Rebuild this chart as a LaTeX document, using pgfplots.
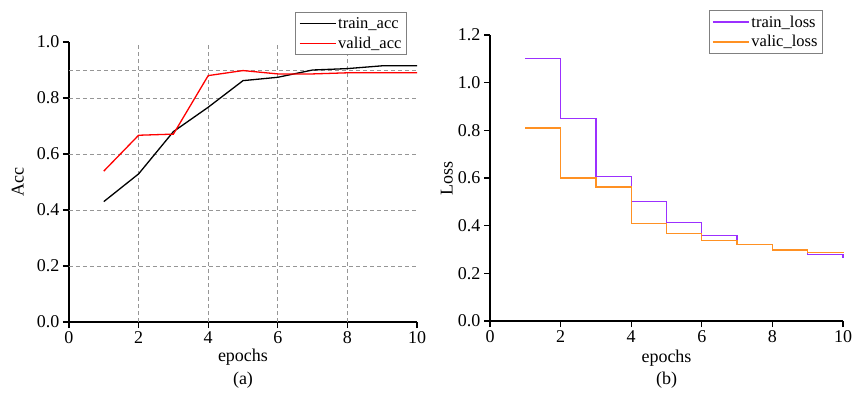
\documentclass[border=0pt]{standalone}
\usepackage{pgfplots}
\pgfplotsset{compat=1.18}
\usepackage{fontspec}
\setmainfont{Liberation Serif}
\definecolor{tpurple}{RGB}{155,48,255}
\definecolor{vorange}{RGB}{255,145,35}
\definecolor{gridgray}{RGB}{150,150,150}
\begin{document}
\begin{tikzpicture}
\path[use as bounding box] (-69pt,-70pt) rectangle (783pt,322pt);
\pgfplotsset{
 every axis/.append style={
  scale only axis, xmin=0, xmax=10, ymin=0, clip=false,
  axis x line=bottom, axis y line=left,
  axis line style={-, line width=1.4pt, black},
  tick align=outside, major tick length=6pt,
  tick style={line width=1.2pt, black},
  font=\fontsize{18}{21}\selectfont,
  /pgf/number format/assume math mode=true,
  xtick={0,2,4,6,8,10},
  yticklabel style={/pgf/number format/fixed, /pgf/number format/fixed zerofill, /pgf/number format/precision=1},
  legend cell align=left,
  legend style={draw=gray, line width=0.9pt, font=\fontsize{16.5}{19}\selectfont, inner xsep=3pt, inner ysep=3pt, row sep=3pt},
  legend image code/.code={\draw[#1] (0pt,0pt) -- (36pt,0pt);},
 }
}
\begin{axis}[name=left, at={(0pt,0pt)}, anchor=south west,
  width=348pt, height=280pt, ymax=1,
  ytick={0,0.2,0.4,0.6,0.8,1.0},
  extra x ticks={2,4,6,8}, extra x tick labels={},
  extra y ticks={0.2,0.4,0.6,0.8,0.9}, extra y tick labels={},
  extra tick style={grid=major, major tick length=0pt},
  major grid style={gridgray, line width=0.8pt, dash pattern=on 4pt off 3pt},
  xlabel={epochs}, ylabel={Acc},
  xlabel style={at={(axis description cs:0.5,-0.125)}, anchor=center},
  ylabel style={at={(axis description cs:-0.147,0.5)}, anchor=center},
  legend style={at={(0.971,1.107)}, anchor=north east}]
\addplot[black, line width=1.3pt] coordinates {(1,0.43)(2,0.529)(3,0.68)(4,0.767)(5,0.862)(6,0.874)(7,0.9)(8,0.905)(9,0.915)(10,0.915)};
\addlegendentry{train\_acc}
\addplot[red, line width=1.3pt] coordinates {(1,0.539)(2,0.667)(3,0.671)(4,0.88)(5,0.898)(6,0.886)(7,0.886)(8,0.89)(9,0.89)(10,0.89)};
\addlegendentry{valid\_acc}
\node[font=\fontsize{18}{21}\selectfont] at (axis description cs:0.5,-0.207) {(a)};
\end{axis}
\begin{axis}[name=right, at={(421pt,1pt)}, anchor=south west,
  width=353pt, height=286pt, ymax=1.2,
  ytick={0,0.2,0.4,0.6,0.8,1.0,1.2},
  xlabel={epochs}, ylabel={Loss},
  xlabel style={at={(axis description cs:0.5,-0.129)}, anchor=center},
  ylabel style={at={(axis description cs:-0.122,0.5)}, anchor=center},
  legend style={at={(0.943,1.087)}, anchor=north east}]
\addplot[tpurple, line width=1.3pt, const plot] coordinates {(1,1.1)(2,0.85)(3,0.605)(4,0.5)(5,0.412)(6,0.36)(7,0.32)(8,0.298)(9,0.28)(10,0.265)};
\addlegendentry{train\_loss}
\addplot[vorange, line width=1.3pt, const plot] coordinates {(1,0.81)(2,0.6)(3,0.562)(4,0.41)(5,0.368)(6,0.337)(7,0.322)(8,0.298)(9,0.288)(10,0.284)};
\addlegendentry{valic\_loss}
\node[font=\fontsize{18}{21}\selectfont] at (axis description cs:0.5,-0.206) {(b)};
\end{axis}
\end{tikzpicture}
\end{document}
